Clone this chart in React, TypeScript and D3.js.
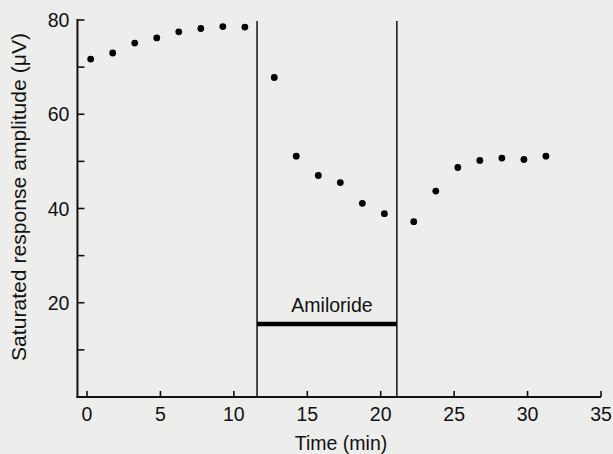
import React from "react";
import * as d3 from "d3";

const times = [0.25, 1.75, 3.25, 4.75, 6.25, 7.75, 9.25, 10.75, 12.75, 14.25, 15.75, 17.25, 18.75, 20.25, 22.25, 23.75, 25.25, 26.75, 28.25, 29.75, 31.25];
const amplitudes = [71.7, 73.0, 75.1, 76.2, 77.5, 78.2, 78.6, 78.5, 67.8, 51.1, 47.0, 45.5, 41.1, 38.9, 37.2, 43.7, 48.7, 50.2, 50.7, 50.4, 51.1];
const xTicks = [0, 5, 10, 15, 20, 25, 30, 35];
const yTicksMajor = [20, 40, 60, 80];
const yTicksMinor = [10, 30, 50, 70];
const amilorideStart = 11.58;
const amilorideEnd = 21.1;
const amilorideLevel = 15.5;
const amilorideLabel = "Amiloride";

const W = 613, H = 454;
const font = "'Liberation Sans', Arial, Helvetica, sans-serif";

export default function App() {
  const x = d3.scaleLinear().domain([0, 35]).range([87, 601]);
  const y = d3.scaleLinear().domain([0, 80]).range([397, 20]);
  const x0 = x(-0.65);
  const y0 = y(0);
  return (
    <svg width={W} height={H} style={{ position: "absolute", left: 0, top: 0 }}>
      <rect x={0} y={0} width={W} height={H} fill="#ededeb" />
      {/* axes */}
      <line x1={x0} x2={x0} y1={y(80) - 1} y2={y0 + 1} stroke="#111" strokeWidth={2} />
      <line x1={x0 - 1} x2={x(35)} y1={y0} y2={y0} stroke="#111" strokeWidth={2} />
      {yTicksMajor.concat(yTicksMinor).map((v) => (
        <line key={"yt" + v} x1={x0} x2={x0 + 7} y1={y(v)} y2={y(v)} stroke="#111" strokeWidth={1.6} />
      ))}
      {yTicksMajor.map((v) => (
        <text key={"yl" + v} x={x0 - 8} y={y(v) + 7} textAnchor="end" fontFamily={font} fontSize={19.5} fill="#111">{v}</text>
      ))}
      {xTicks.map((v) => (
        <line key={"xt" + v} x1={x(v)} x2={x(v)} y1={y0} y2={y0 - 6} stroke="#111" strokeWidth={1.6} />
      ))}
      {xTicks.map((v) => (
        <text key={"xl" + v} x={x(v)} y={y0 + 24} textAnchor="middle" fontFamily={font} fontSize={19.5} fill="#111">{v}</text>
      ))}
      {/* vertical lines */}
      {[amilorideStart, amilorideEnd].map((v) => (
        <line key={"v" + v} x1={x(v)} x2={x(v)} y1={y(80) + 1} y2={y0} stroke="#111" strokeWidth={1.5} />
      ))}
      {/* amiloride bar */}
      <line x1={x(amilorideStart)} x2={x(amilorideEnd)} y1={y(amilorideLevel)} y2={y(amilorideLevel)} stroke="#000" strokeWidth={4.5} />
      <text x={(x(amilorideStart) + x(amilorideEnd)) / 2 + 5} y={y(amilorideLevel) - 12} textAnchor="middle" fontFamily={font} fontSize={19.5} fill="#111">{amilorideLabel}</text>
      {/* points */}
      {times.map((t, i) => (
        <circle key={"p" + i} cx={x(t)} cy={y(amplitudes[i])} r={3.4} fill="#000" />
      ))}
      {/* axis titles */}
      <text x={341} y={450} textAnchor="middle" fontFamily={font} fontSize={19.5} fill="#111">Time (min)</text>
      <text transform={`translate(26,197) rotate(-90)`} textAnchor="middle" fontFamily={font} fontSize={20} fill="#111" textLength={328} lengthAdjust="spacingAndGlyphs">Saturated response amplitude (μV)</text>
    </svg>
  );
}
